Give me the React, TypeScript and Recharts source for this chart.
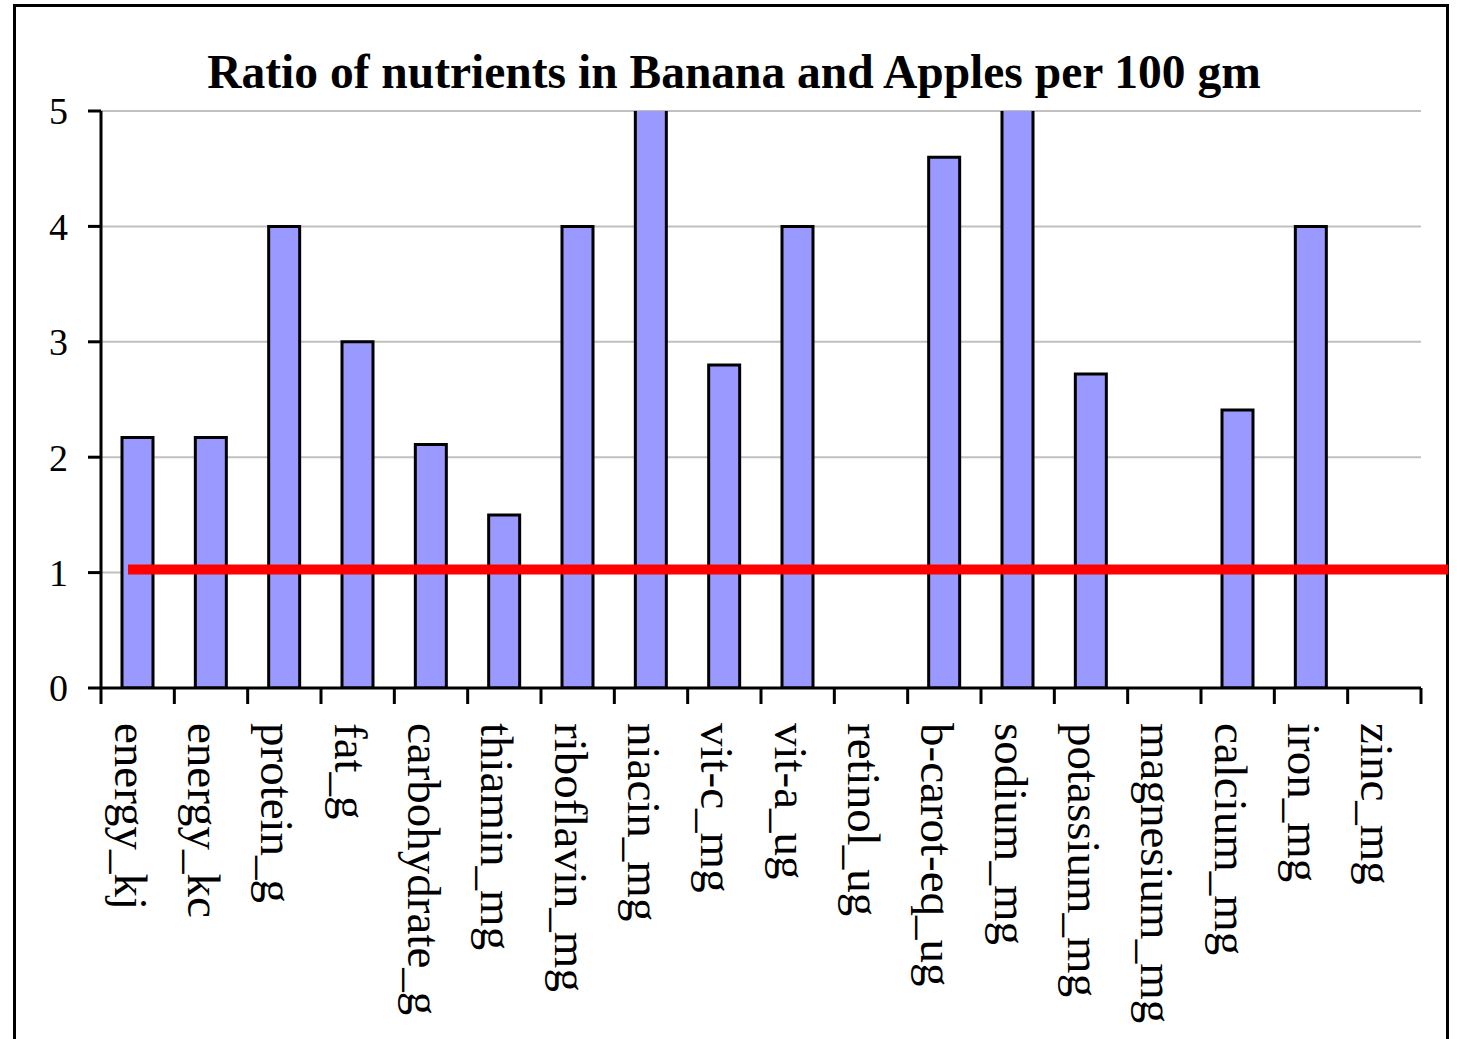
import { BarChart, Bar, XAxis, YAxis, CartesianGrid, ReferenceLine } from 'recharts'

// nutrient keys as they appear in the source table
const NUTRIENTS = [
  'energy_kj', 'energy_kc', 'protein_g', 'fat_g', 'carbohydrate_g', 'thiamin_mg',
  'riboflavin_mg', 'niacin_mg', 'vit-c_mg', 'vit-a_ug', 'retinol_ug', 'b-carot-eq_ug',
  'sodium_mg', 'potassium_mg', 'magnesium_mg', 'calcium_mg', 'iron_mg', 'zinc_mg',
]

// banana / apple, per 100 gm (niacin and sodium run off the top of the axis)
const RATIOS = [2.17, 2.17, 4, 3, 2.11, 1.5, 4, 6, 2.8, 4, 0, 4.6, 6, 2.72, 0, 2.41, 4, 0]

const Y_TICKS = [0, 1, 2, 3, 4, 5]
const PARITY = 1

const SERIF = '"Liberation Serif", "Times New Roman", serif'
const TICK_SIZE = 16
const TICK_MARGIN = 19

const data = NUTRIENTS.map((name, i) => ({ name, ratio: RATIOS[i] }))

const NutrientTick = ({ x, y, payload, index }: any) => {
  const half = payload?.offset ?? 0
  const top = y - TICK_MARGIN - TICK_SIZE
  const bottom = y - TICK_MARGIN
  const last = index === NUTRIENTS.length - 1
  return (
    <g>
      <line x1={x - half} x2={x - half} y1={top} y2={bottom} stroke="#000" strokeWidth={3} />
      {last && <line x1={x + half} x2={x + half} y1={top} y2={bottom} stroke="#000" strokeWidth={3} />}
      <text
        x={x}
        y={y}
        dy={23}
        transform={`rotate(90, ${x}, ${y})`}
        textAnchor="start"
        fontFamily={SERIF}
        fontSize={47}
        fill="#000"
      >
        {payload.value}
      </text>
    </g>
  )
}

// the parity line sits a little to the right of the plot area
const ParityLine = (props: any) => {
  const { x1, x2, y1 } = props
  return <line x1={x1 + 27} x2={x2 + 27} y1={y1 - 3} y2={y1 - 3} stroke="#ff0000" strokeWidth={10} />
}

export default function App() {
  return (
    <div style={{ position: 'fixed', left: 0, top: 0, width: 1457, height: 1039, overflow: 'hidden', background: '#fff' }}>
      <div
        style={{
          position: 'absolute', left: 13, top: 4, width: 1430, height: 1060,
          border: '3px solid #000', boxSizing: 'content-box',
        }}
      />
      <div
        style={{
          position: 'absolute', left: 14, top: 45, width: 1440, textAlign: 'center',
          fontFamily: SERIF, fontWeight: 'bold', fontSize: 47.5, color: '#000', whiteSpace: 'nowrap',
        }}
      >
        Ratio of nutrients in Banana and Apples per 100 gm
      </div>
      <div style={{ position: 'absolute', left: 0, top: 0 }}>
        <BarChart
          width={1457}
          height={1039}
          data={data}
          barSize={31}
          margin={{ top: 111, right: 36, bottom: 0, left: 0 }}
        >
          <CartesianGrid vertical={false} stroke="#c0c0c0" strokeWidth={2} />
          <XAxis
            dataKey="name"
            interval={0}
            height={351}
            tickLine={false}
            tickSize={TICK_SIZE}
            tickMargin={TICK_MARGIN}
            axisLine={{ stroke: '#000', strokeWidth: 3 }}
            tick={<NutrientTick />}
          />
          <XAxis
            xAxisId="frame"
            dataKey="name"
            orientation="top"
            height={0}
            tick={false}
            tickLine={false}
            axisLine={{ stroke: '#8c8c8c', strokeWidth: 3 }}
          />
          <YAxis
            domain={[0, 5]}
            ticks={Y_TICKS}
            allowDataOverflow
            width={101}
            tickSize={13}
            tickMargin={20}
            tickLine={{ stroke: '#000', strokeWidth: 3 }}
            axisLine={{ stroke: '#000', strokeWidth: 3 }}
            tick={{ fontFamily: SERIF, fontSize: 38, fill: '#000' }}
          />
          <YAxis
            yAxisId="frame"
            orientation="right"
            domain={[0, 5]}
            width={0}
            tick={false}
            tickLine={false}
            axisLine={{ stroke: '#8c8c8c', strokeWidth: 3 }}
          />
          <Bar dataKey="ratio" fill="#9999ff" stroke="#000" strokeWidth={3} isAnimationActive={false} />
          <ReferenceLine y={PARITY} ifOverflow="visible" shape={<ParityLine />} />
        </BarChart>
      </div>
    </div>
  )
}
